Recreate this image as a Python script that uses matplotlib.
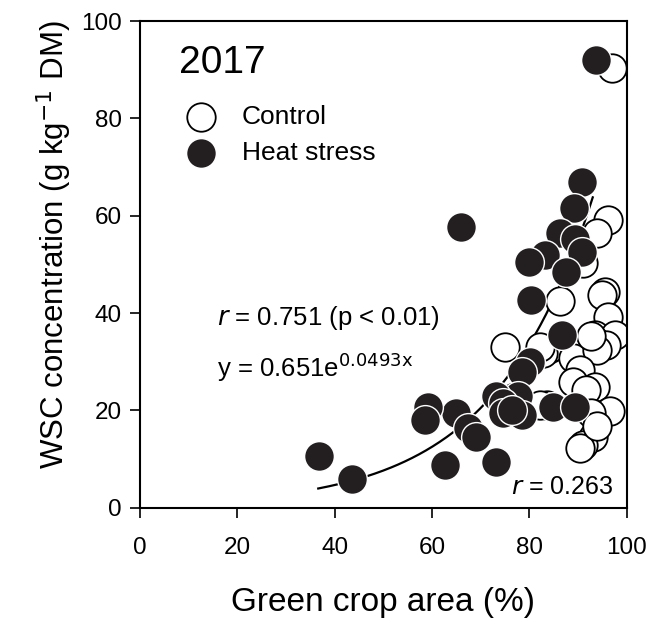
import matplotlib
matplotlib.use("Agg")
import matplotlib.pyplot as plt
import numpy as np

plt.rcParams['font.family'] = ['Liberation Sans', 'DejaVu Sans']

# Green crop area (%) and WSC (g/kg DM)
ctrl_x = [96.9, 96.2, 93.8, 91.0, 86.2, 95.5, 94.8, 96.2, 93.4, 75.0,
          97.5, 83.5, 82.1, 82.8, 93.4, 95.8, 88.9, 93.8, 90.3, 89.0,
          93.4, 91.7, 96.5, 92.7, 93.1, 91.0, 90.3, 93.8, 82.1, 92.7]
ctrl_y = [90.3, 59.1, 56.4, 50.3, 42.4, 44.4, 43.7, 39.3, 35.5, 33.1,
          35.5, 21.2, 21.2, 31.8, 34.2, 33.5, 30.8, 32.4, 28.3, 25.9,
          24.9, 24.2, 19.8, 19.4, 14.6, 12.9, 12.3, 16.7, 33.1, 35.2]

heat_x = [93.6, 90.8, 89.1, 65.9, 86.2, 89.3, 90.7, 83.2, 80.0, 87.6,
          80.4, 86.6, 80.1, 78.4, 77.6, 73.2, 74.6, 74.6, 65.0, 67.4,
          69.1, 62.6, 73.2, 84.9, 89.3, 36.8, 43.5, 59.2, 58.5, 78.4,
          76.5]
heat_y = [92.1, 66.9, 61.7, 57.6, 56.5, 55.2, 52.6, 52.0, 50.6, 48.5,
          42.7, 35.5, 30.0, 28.0, 22.9, 22.9, 21.5, 19.5, 19.4, 16.4,
          14.6, 8.8, 9.5, 20.8, 20.8, 10.7, 6.0, 20.8, 18.1, 19.1,
          20.0]

# fitted curves
heat_a, heat_b = 0.651, 0.0493
heat_fit_range = [36.6, 93.0]
ctrl_fit = [0.5, -12.7]      # linear, slope / intercept
ctrl_fit_range = [74.0, 97.0]

fig = plt.figure(figsize=(6.64, 6.23), dpi=100)
ax = fig.add_axes([0.211, 0.185, 0.733, 0.781])

xs = np.linspace(*heat_fit_range, 200)
ax.plot(xs, heat_a * np.exp(heat_b * xs), color='black', lw=1.6, zorder=1)
xc = np.linspace(*ctrl_fit_range, 50)
ax.plot(xc, ctrl_fit[0] * xc + ctrl_fit[1], color='black', lw=1.6, zorder=1)

ax.scatter(ctrl_x, ctrl_y, s=420, facecolor='white', edgecolor='black',
           linewidth=1.3, zorder=2, label='Control')
ax.scatter(heat_x, heat_y, s=460, facecolor='#231f20', edgecolor='white',
           linewidth=1.0, zorder=3, label='Heat stress')

ax.set_xlim(0, 100)
ax.set_ylim(0, 100)
ax.set_xticks([0, 20, 40, 60, 80, 100])
ax.set_yticks([0, 20, 40, 60, 80, 100])
ax.tick_params(axis='both', direction='out', length=7, width=1.2,
               labelsize=17.5, top=False, right=False)
ax.tick_params(axis='x', pad=14)
ax.tick_params(axis='y', pad=6)
for sp in ax.spines.values():
    sp.set_linewidth(1.5)

ax.set_xlabel('Green crop area (%)', fontsize=24, labelpad=20)
ax.set_ylabel('WSC concentration (g kg$^{-1}$ DM)', fontsize=22.5)
ax.yaxis.set_label_coords(-0.135, 0.54)

ax.text(8, 91.5, '2017', fontsize=28, va='center')
leg = ax.legend(loc='upper left', bbox_to_anchor=(0.033, 0.865), frameon=False,
                fontsize=19, handletextpad=0.55, borderaxespad=0.3,
                labelspacing=0.45)

ax.text(15.8, 39, r'$r$ = 0.751 (p < 0.01)', fontsize=18.5, va='center')
ax.text(15.8, 28.8, r'y = 0.651e$^{\mathrm{0.0493x}}$', fontsize=18.5,
        va='center')
ax.text(97.2, 4.2, r'$r$ = 0.263', fontsize=18, va='center', ha='right')

fig.savefig('out.png', dpi=100)
